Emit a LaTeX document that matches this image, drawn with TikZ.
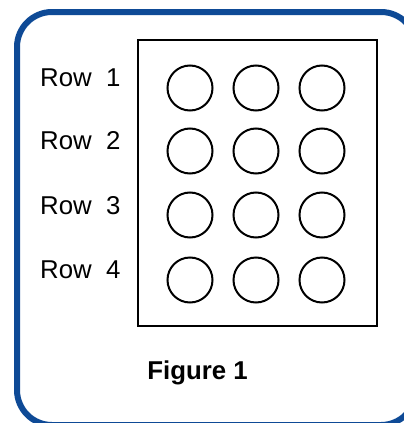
\documentclass[tikz,border=0pt]{standalone}
\usepackage{fontspec}
\setmainfont{Liberation Sans}
\usetikzlibrary{positioning}
\definecolor{frameblue}{RGB}{14,74,150}
\tikzset{
	well/.style={circle,draw,line width=2pt,minimum size=45pt,inner sep=0},
	rowlabel/.style={anchor=base west,inner sep=0,font=\fontsize{25.8}{30}\selectfont},
	figlabel/.style={anchor=base,inner sep=0,font=\fontsize{25.8}{30}\selectfont\bfseries}
}

\begin{document}
\begin{tikzpicture}[x=1pt,y=-1pt]
	\useasboundingbox (0,0) rectangle (404,423);
	%%%% frame
	\draw[frameblue,line width=6pt,rounded corners=35pt] (17,12) rectangle (416,425);
	\draw[line width=2pt] (138,40) rectangle (377,326);
	
	%%%% labels
	\node[rowlabel] (r1) at (40,86) {Row\ \ 1};
	\node[rowlabel] (r2) at (40,149) {Row\ \ 2};
	\node[rowlabel] (r3) at (40,214) {Row\ \ 3};
	\node[rowlabel] (r4) at (40,278) {Row\ \ 4};
	
	%%%% wells
	\node[well] (w11) at (190,88) {};
	\node[well] (w12) at (256,88) {};
	\node[well] (w13) at (322,88) {};
	\node[well] (w21) at (190,151) {};
	\node[well] (w22) at (256,151) {};
	\node[well] (w23) at (322,151) {};
	\node[well] (w31) at (190,215) {};
	\node[well] (w32) at (256,215) {};
	\node[well] (w33) at (322,215) {};
	\node[well] (w41) at (190,280) {};
	\node[well] (w42) at (256,280) {};
	\node[well] (w43) at (322,280) {};
	
	\node[figlabel] (fig) at (197.5,379) {Figure 1};
\end{tikzpicture}
\end{document}
